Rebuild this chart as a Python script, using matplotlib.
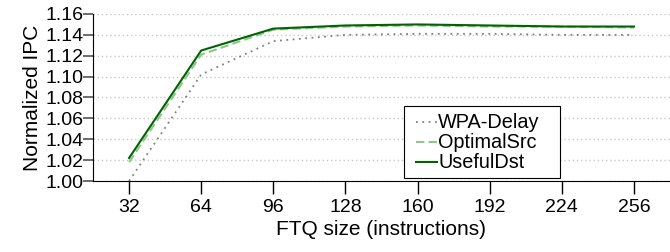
import matplotlib
matplotlib.use("Agg")
import matplotlib.pyplot as plt
from matplotlib.patches import Rectangle
from matplotlib.lines import Line2D

ftq = [32, 64, 96, 128, 160, 192, 224, 256]
wpa_delay = [1.000, 1.102, 1.134, 1.140, 1.141, 1.141, 1.140, 1.140]
optimal_src = [1.018, 1.121, 1.145, 1.148, 1.149, 1.148, 1.148, 1.147]
useful_dst = [1.022, 1.125, 1.146, 1.149, 1.150, 1.149, 1.148, 1.148]
yticks = [1.00, 1.02, 1.04, 1.06, 1.08, 1.10, 1.12, 1.14, 1.16]
series_names = ['WPA-Delay', 'OptimalSrc', 'UsefulDst']

plt.rcParams['font.family'] = ['Liberation Sans', 'DejaVu Sans']
W, H = 670, 252
fig = plt.figure(figsize=(W/100, H/100), dpi=100)
AX_L, AX_R, AX_T, AX_B = 93, 670, 14, 181
ax = fig.add_axes([AX_L/W, 1-AX_B/H, (AX_R-AX_L)/W, (AX_B-AX_T)/H])

def fx(px):
    return px / W

def fy(py):
    return 1 - py / H

styles = [
    dict(color='#808080', linestyle=(0, (1, 2.5)), linewidth=1.3),
    dict(color='#8cc88c', linestyle=(0, (4, 2)), linewidth=1.5),
    dict(color='#006400', linestyle='-', linewidth=1.5),
]
for vals, name, st in zip([wpa_delay, optimal_src, useful_dst], series_names, styles):
    ax.plot(ftq, vals, label=name, **st)

ax.set_xlim(16, 272)
ax.set_ylim(1.00, 1.16)
ax.set_xticks(ftq)
ax.set_xticklabels([str(v) for v in ftq], fontsize=14)
ax.set_yticks(yticks)
ax.set_yticklabels([f"{v:.2f}" for v in yticks], fontsize=14)
ax.yaxis.grid(True, color='#c8c8c8', linestyle=(0, (1, 2)), linewidth=1)
ax.set_axisbelow(True)
for s in ['top', 'right']:
    ax.spines[s].set_visible(False)
ax.tick_params(axis='y', colors='#606060', length=7, width=1.3, labelcolor='black', pad=0)
ax.tick_params(axis='x', length=9, width=1, pad=4)
ax.set_xlabel('FTQ size (instructions)', fontsize=15, labelpad=3)
ax.set_ylabel('Normalized IPC', fontsize=15, labelpad=2)

# legend (drawn by hand, in figure pixel positions)
fig.add_artist(Rectangle((fx(404), fy(178)), fx(560)-fx(404), fy(106)-fy(178),
                         transform=fig.transFigure, facecolor='white',
                         edgecolor='black', linewidth=0.8, zorder=4))
row_centers = [122, 142, 162]
for name, st, yc in zip(series_names, styles, row_centers):
    fig.add_artist(Line2D([fx(416), fx(437)], [fy(yc), fy(yc)], transform=fig.transFigure,
                          zorder=5, **st))
    fig.text(fx(438), fy(yc + 6.5), name, fontsize=14.3, va='baseline',
             ha='left', zorder=5)

fig.savefig('out.png', dpi=100)
